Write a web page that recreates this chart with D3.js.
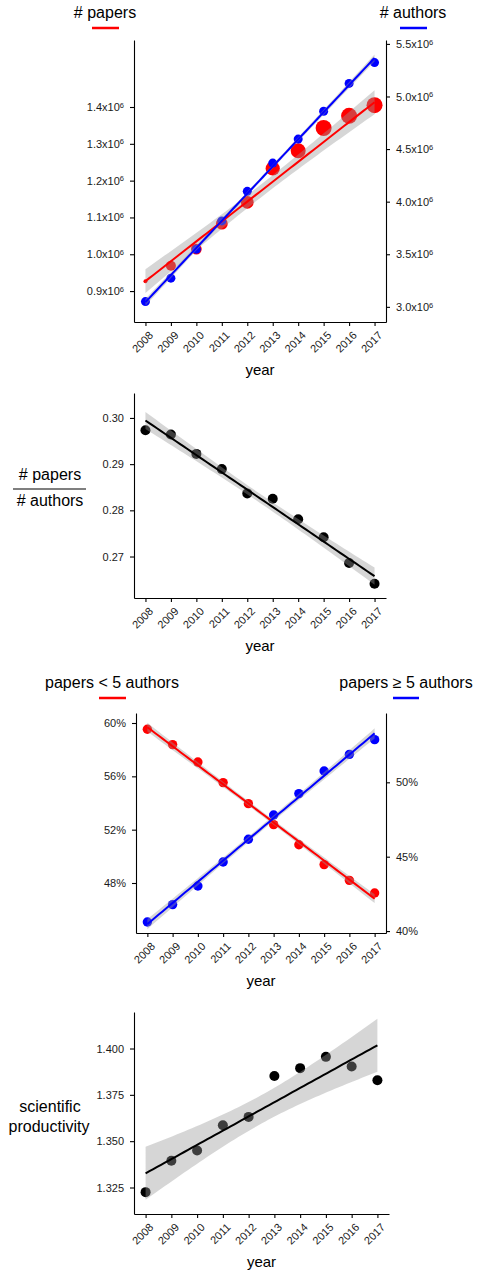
<!DOCTYPE html>
<html>
<head>
<meta charset="utf-8">
<script src="https://cdn.jsdelivr.net/npm/d3@7"></script>
<style>
  body { margin: 0; background: #fff; }
  text { font-family: "Liberation Sans", Arial, sans-serif; }
</style>
</head>
<body>
<script>
// values
var years = [2008, 2009, 2010, 2011, 2012, 2013, 2014, 2015, 2016, 2017];

var papers = [927000, 969000, 1014000, 1083000, 1141000, 1233000, 1281000, 1343000, 1376000, 1405000];
var papersFit = [927000, 1413000]; // fitted values at 2008 and 2017
var authors = [3050000, 3273000, 3548000, 3817000, 4098000, 4367000, 4595000, 4860000, 5124000, 5322000];
var papersTicks = [900000, 1000000, 1100000, 1200000, 1300000, 1400000];
var authorsTicks = [3000000, 3500000, 4000000, 4500000, 5000000, 5500000];

var ratio = [0.29735, 0.2964, 0.29222, 0.28892, 0.28367, 0.2825, 0.27806, 0.27419, 0.26858, 0.26411];
var ratioTicks = [0.27, 0.28, 0.29, 0.30];

var shareSmall = [59.53, 58.38, 57.07, 55.53, 53.95, 52.38, 50.87, 49.38, 48.2, 47.25];
var shareLarge = [40.61, 41.78, 43.03, 44.64, 46.17, 47.8, 49.24, 50.76, 51.88, 52.87];
var smallTicks = [48, 52, 56, 60];
var largeTicks = [40, 45, 50];

var productivity = [1.3225, 1.3394, 1.345, 1.3586, 1.3631, 1.3852, 1.3894, 1.3955, 1.3903, 1.3829];
var prodTicks = [1.325, 1.35, 1.375, 1.4];

var RED = '#ff0000', BLUE = '#0000ff';

var svg = d3.select('body').append('svg')
  .attr('width', 477)
  .attr('height', 1275);

// linear fit with 95% confidence band (t for 8 df)
var fitLine = function(xs, ys, ends) {
  var n = xs.length;
  var xbar = d3.mean(xs), ybar = d3.mean(ys);
  var sxx = d3.sum(xs, function(x) { return (x - xbar) * (x - xbar); });
  var a, b;
  if (ends) {
    b = (ends[1] - ends[0]) / (xs[n - 1] - xs[0]);
    a = ends[0] - b * xs[0];
  } else {
    b = d3.sum(xs, function(x, i) { return (x - xbar) * (ys[i] - ybar); }) / sxx;
    a = ybar - b * xbar;
  }
  var sse = d3.sum(xs, function(x, i) { var r = ys[i] - (a + b * x); return r * r; });
  var s = Math.sqrt(sse / (n - 2));
  var t = 2.306;
  return d3.range(0, 61).map(function(i) {
    var x = xs[0] + i * (xs[n - 1] - xs[0]) / 60;
    return { x: x, y: a + b * x, hw: t * s * Math.sqrt(1 / n + (x - xbar) * (x - xbar) / sxx) };
  });
};

var drawBand = function(fit, x, y) {
  svg.append('path')
    .datum(fit)
    .attr('d', d3.area()
      .x(function(d) { return x(d.x); })
      .y0(function(d) { return y(d.y - d.hw); })
      .y1(function(d) { return y(d.y + d.hw); }))
    .attr('fill', '#999')
    .attr('fill-opacity', 0.4);
};

var drawFit = function(fit, x, y, color) {
  svg.append('path')
    .datum(fit)
    .attr('d', d3.line()
      .x(function(d) { return x(d.x); })
      .y(function(d) { return y(d.y); }))
    .attr('fill', 'none')
    .attr('stroke', color)
    .attr('stroke-width', 2);
};

var drawPoints = function(vals, x, y, color, r) {
  svg.append('g').selectAll('circle')
    .data(vals)
    .enter()
      .append('circle')
        .attr('cx', function(d, i) { return x(years[i]); })
        .attr('cy', function(d) { return y(d); })
        .attr('r', r)
        .attr('fill', color);
};

var styleAxis = function(g) {
  g.select('.domain').attr('stroke', '#000').attr('stroke-width', 1.1);
  g.selectAll('.tick line').attr('stroke', '#000').attr('stroke-width', 1.1);
  g.selectAll('.tick text')
    .attr('fill', '#1a1a1a')
    .style('font-size', '11px')
    .style('font-family', '"Liberation Sans", Arial, sans-serif');
};

// "1.4x10^6" style labels
var sciLabels = function(g, digits) {
  g.selectAll('.tick text').each(function(d) {
    var t = d3.select(this).text('');
    t.append('tspan').text((d / 1e6).toFixed(digits) + 'x10');
    t.append('tspan').attr('dy', '-0.45em').style('font-size', '7.5px').text('6');
  });
};

var xAxis = function(x, yBottom) {
  var g = svg.append('g')
    .attr('transform', 'translate(0,' + yBottom + ')')
    .call(d3.axisBottom(x).tickValues(years).tickFormat(d3.format('d')).tickSize(4).tickSizeOuter(0));
  styleAxis(g);
  g.selectAll('.tick text')
    .attr('text-anchor', 'end')
    .attr('dy', null)
    .attr('y', 0)
    .attr('transform', 'translate(8,14) rotate(-45)');
  svg.append('text')
    .attr('x', (x.range()[0] + x.range()[1]) / 2)
    .attr('y', yBottom + 53)
    .attr('text-anchor', 'middle')
    .style('font-size', '15px')
    .text('year');
  return g;
};

var yAxisLeft = function(y, xPos, ticks, fmt) {
  var g = svg.append('g')
    .attr('transform', 'translate(' + xPos + ',0)')
    .call(d3.axisLeft(y).tickValues(ticks).tickFormat(fmt).tickSize(4).tickPadding(6).tickSizeOuter(0));
  styleAxis(g);
  return g;
};

var yAxisRight = function(y, xPos, ticks, fmt) {
  var g = svg.append('g')
    .attr('transform', 'translate(' + xPos + ',0)')
    .call(d3.axisRight(y).tickValues(ticks).tickFormat(fmt).tickSize(4).tickPadding(6).tickSizeOuter(0));
  styleAxis(g);
  return g;
};

var legendTitle = function(label, cx, baseline, x1, x2, color) {
  svg.append('text')
    .attr('x', cx).attr('y', baseline)
    .attr('text-anchor', 'middle')
    .style('font-size', '16px')
    .text(label);
  svg.append('line')
    .attr('x1', x1).attr('x2', x2)
    .attr('y1', baseline + 10).attr('y2', baseline + 10)
    .attr('stroke', color)
    .attr('stroke-width', 2.5);
};

var yearDomain = [2007.55, 2017.45];

// ---- panel 1: papers and authors ----
var x1 = d3.scaleLinear().domain(yearDomain).range([134, 386]);
var yP = d3.scaleLinear().domain([816000, 1582000]).range([322, 40]);
var yA = d3.scaleLinear().domain([816000 * 3.5, 1582000 * 3.5]).range([322, 40]);
var paperSize = d3.scaleLinear().domain([927000, 969000, 1343000]).range([2, 5, 8]).clamp(true);

var papersFitted = fitLine(years, papers, papersFit);
var authorsFitted = fitLine(years, authors);

drawPoints(papers, x1, yP, RED, function(d) { return paperSize(d); });
drawPoints(authors, x1, yA, BLUE, 4.5);
drawBand(papersFitted, x1, yP);
drawBand(authorsFitted, x1, yA);
drawFit(papersFitted, x1, yP, RED);
drawFit(authorsFitted, x1, yA, BLUE);

sciLabels(yAxisLeft(yP, 134, papersTicks, d3.format('d')), 1);
sciLabels(yAxisRight(yA, 386, authorsTicks, d3.format('d')), 1);
xAxis(x1, 322);

legendTitle('# papers', 105, 18, 92, 119, RED);
legendTitle('# authors', 413, 18, 400, 427, BLUE);

// ---- panel 2: papers / authors ----
var x2 = d3.scaleLinear().domain(yearDomain).range([134, 386]);
var yR = d3.scaleLinear().domain([0.26102, 0.3054]).range([598, 393]);
var ratioFitted = fitLine(years, ratio);

drawPoints(ratio, x2, yR, '#000', 5);
drawBand(ratioFitted, x2, yR);
drawFit(ratioFitted, x2, yR, '#000');
yAxisLeft(yR, 134, ratioTicks, d3.format('.2f'));
xAxis(x2, 598);

svg.append('text').attr('x', 50).attr('y', 480).attr('text-anchor', 'middle').style('font-size', '16px').text('# papers');
svg.append('line').attr('x1', 13).attr('x2', 86).attr('y1', 489).attr('y2', 489).attr('stroke', '#000').attr('stroke-width', 1.2);
svg.append('text').attr('x', 50).attr('y', 506).attr('text-anchor', 'middle').style('font-size', '16px').text('# authors');

// ---- panel 3: share of papers by team size ----
var x3 = d3.scaleLinear().domain(yearDomain).range([136, 386]);
var yS = d3.scaleLinear().domain([44.25, 60.75]).range([933, 713]);
var yL = d3.scaleLinear().domain([39.87, 54.66]).range([933, 713]);
var smallFitted = fitLine(years, shareSmall);
var largeFitted = fitLine(years, shareLarge);

drawPoints(shareSmall, x3, yS, RED, 4.7);
drawPoints(shareLarge, x3, yL, BLUE, 4.7);
drawBand(smallFitted, x3, yS);
drawBand(largeFitted, x3, yL);
drawFit(smallFitted, x3, yS, RED);
drawFit(largeFitted, x3, yL, BLUE);

var pct = function(d) { return d + '%'; };
yAxisLeft(yS, 136, smallTicks, pct);
yAxisRight(yL, 386, largeTicks, pct);
xAxis(x3, 933);

legendTitle('papers < 5 authors', 112, 688, 99, 126, RED);
legendTitle('papers \u2265 5 authors', 406, 688, 393, 419, BLUE);

// ---- panel 4: scientific productivity ----
var x4 = d3.scaleLinear().domain(yearDomain).range([134, 389]);
var yQ = d3.scaleLinear().domain([1.3107, 1.4197]).range([1214, 1012]);
var prodFitted = fitLine(years, productivity);

drawPoints(productivity, x4, yQ, '#000', 5);
drawBand(prodFitted, x4, yQ);
drawFit(prodFitted, x4, yQ, '#000');
yAxisLeft(yQ, 134, prodTicks, d3.format('.3f'));
xAxis(x4, 1214);

svg.append('text').attr('x', 50).attr('y', 1112).attr('text-anchor', 'middle').style('font-size', '16px').text('scientific');
svg.append('text').attr('x', 49).attr('y', 1132).attr('text-anchor', 'middle').style('font-size', '16px').text('productivity');
</script>
</body>
</html>
